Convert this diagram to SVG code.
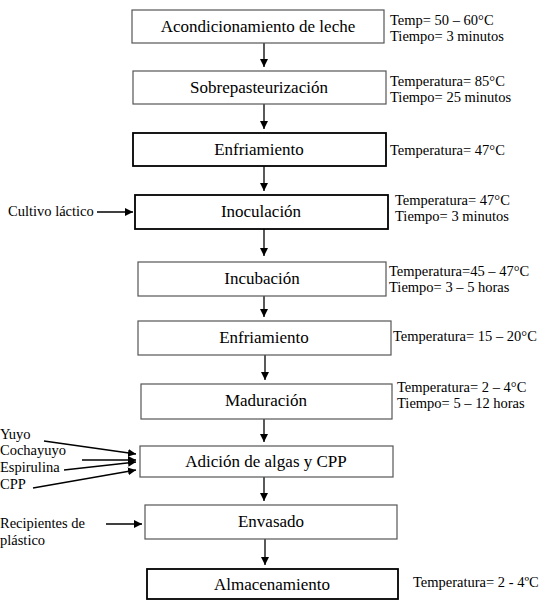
<svg xmlns="http://www.w3.org/2000/svg" width="546" height="601" viewBox="0 0 546 601">
<style>
.box{fill:#fff;stroke:#555;stroke-width:1.2}
.bold{stroke:#000;stroke-width:1.8}
.ln{stroke:#000;stroke-width:1.3;fill:none}
</style>
<defs>
<marker id="ah" markerWidth="10" markerHeight="10" refX="8" refY="4" orient="auto" markerUnits="userSpaceOnUse">
<path d="M0,0 L8,4 L0,8 Z" fill="#000"/>
</marker>
</defs>
<rect width="546" height="601" fill="#fff"/>
<g id="connectors">
<line class="ln" x1="264" y1="43" x2="264" y2="67" marker-end="url(#ah)"/>
<line class="ln" x1="264" y1="104" x2="264" y2="129" marker-end="url(#ah)"/>
<line class="ln" x1="264" y1="166" x2="264" y2="191" marker-end="url(#ah)"/>
<line class="ln" x1="264" y1="229" x2="264" y2="256" marker-end="url(#ah)"/>
<line class="ln" x1="264" y1="296" x2="264" y2="317" marker-end="url(#ah)"/>
<line class="ln" x1="265" y1="355" x2="265" y2="380" marker-end="url(#ah)"/>
<line class="ln" x1="264" y1="419" x2="264" y2="442" marker-end="url(#ah)"/>
<line class="ln" x1="264" y1="477" x2="264" y2="501" marker-end="url(#ah)"/>
<line class="ln" x1="265" y1="539" x2="265" y2="565" marker-end="url(#ah)"/>
<line class="ln" x1="97" y1="212" x2="133" y2="212" marker-end="url(#ah)"/>
<line class="ln" x1="44" y1="441" x2="136" y2="454" marker-end="url(#ah)"/>
<line class="ln" x1="82" y1="460" x2="136" y2="460" marker-end="url(#ah)"/>
<line class="ln" x1="64" y1="470" x2="136" y2="462" marker-end="url(#ah)"/>
<line class="ln" x1="33" y1="488" x2="136" y2="470" marker-end="url(#ah)"/>
<line class="ln" x1="106" y1="524" x2="142" y2="524" marker-end="url(#ah)"/>
</g>
<g font-family="Liberation Serif, Times New Roman, serif" font-size="17" text-anchor="middle" fill="#000">
<g id="n1"><rect class="box" x="132" y="10" width="252" height="33"/><text x="258" y="32">Acondicionamiento de leche</text></g>
<g id="n2"><rect class="box" x="133" y="71" width="253" height="33"/><text x="259" y="93">Sobrepasteurización</text></g>
<g id="n3"><rect class="box bold" x="133" y="133" width="253" height="33"/><text x="259" y="155">Enfriamiento</text></g>
<g id="n4"><rect class="box bold" x="135" y="195" width="253" height="34"/><text x="261" y="217">Inoculación</text></g>
<g id="n5"><rect class="box" x="138" y="262" width="248" height="34"/><text x="262" y="284">Incubación</text></g>
<g id="n6"><rect class="box" x="138" y="321" width="253" height="34"/><text x="264" y="343">Enfriamiento</text></g>
<g id="n7"><rect class="box" x="141" y="384" width="251" height="35"/><text x="266" y="406">Maduración</text></g>
<g id="n8"><rect class="box" x="140" y="446" width="253" height="31"/><text x="266" y="467">Adición de algas y CPP</text></g>
<g id="n9"><rect class="box" x="145" y="505" width="252" height="34"/><text x="271" y="527">Envasado</text></g>
<g id="n10"><rect class="box bold" x="147" y="569" width="251" height="30"/><text x="272" y="590">Almacenamiento</text></g>
</g>
<g id="labels" font-family="Liberation Serif, Times New Roman, serif" font-size="14.5" fill="#000">
<text x="390" y="25">Temp= 50 – 60°C</text>
<text x="390" y="41">Tiempo= 3 minutos</text>
<text x="390" y="86">Temperatura= 85°C</text>
<text x="390" y="102">Tiempo= 25 minutos</text>
<text x="390" y="155">Temperatura= 47°C</text>
<text x="395" y="205">Temperatura= 47°C</text>
<text x="395" y="221">Tiempo= 3 minutos</text>
<text x="389" y="276">Temperatura=45 – 47°C</text>
<text x="389" y="292">Tiempo= 3 – 5 horas</text>
<text x="393" y="341">Temperatura= 15 – 20°C</text>
<text x="397" y="392">Temperatura= 2 – 4°C</text>
<text x="397" y="408">Tiempo= 5 – 12 horas</text>
<text x="413" y="587">Temperatura= 2 - 4ºC</text>
<text x="8" y="216">Cultivo láctico</text>
<text x="0" y="439">Yuyo</text>
<text x="0" y="455">Cochayuyo</text>
<text x="0" y="472">Espirulina</text>
<text x="0" y="489">CPP</text>
<text x="0" y="528">Recipientes de</text>
<text x="0" y="545">plástico</text>
</g>
</svg>
